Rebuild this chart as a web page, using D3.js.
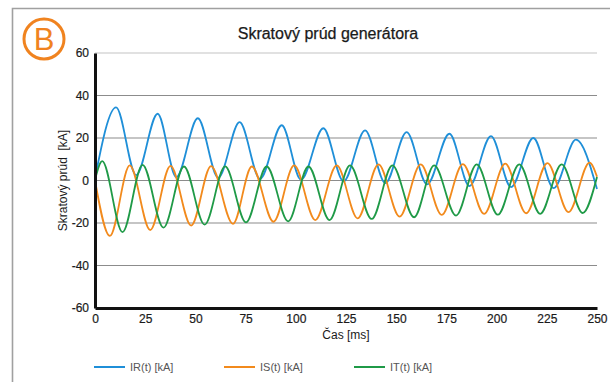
<!DOCTYPE html>
<html>
<head>
<meta charset="utf-8">
<script src="https://cdn.jsdelivr.net/npm/d3@7"></script>
<style>
  body { margin: 0; background: #fff; }
  svg { font-family: "Liberation Sans", Arial, sans-serif; }
</style>
</head>
<body>
<svg></svg>
<script>
// time [ms] of each read-off point, and current [kA]
const irTime = [0, 10.5, 20.5, 31.2, 40.5, 51.2, 61.4, 72.0, 82.2, 93.0, 102.6, 113.7, 123.8, 134.5, 144.6, 155.2, 165.4, 176.5, 186.5, 197.2, 207.2, 218.3, 228.4, 239.5, 250];
const irValue = [1.0, 34.4, 2.5, 31.4, 1.6, 29.3, 1.3, 27.5, 0.8, 26.0, 0.3, 24.6, -0.4, 23.6, -1.2, 22.8, -1.8, 22.0, -2.6, 20.9, -3.1, 20.0, -3.6, 19.2, -4.0];

const isTime = [0, 7.4, 17.3, 27.5, 37.6, 47.9, 57.8, 68.7, 78.1, 88.9, 99.2, 109.7, 120.4, 130.8, 141.2, 151.7, 162.2, 172.7, 183.2, 193.8, 204.3, 214.7, 225.3, 235.8, 246.3, 250];
const isValue = [0, -26.1, 7.1, -23.3, 6.9, -21.2, 6.8, -20.4, 6.6, -19.4, 7.1, -18.6, 7.1, -17.8, 7.6, -17.0, 7.6, -16.2, 7.7, -15.7, 7.9, -15.4, 8.2, -14.9, 8.4, 1.8];

const itTime = [0, 3.6, 13.7, 23.7, 34.1, 44.3, 54.6, 64.8, 75.2, 85.5, 96.2, 106.3, 116.8, 127.0, 137.8, 148.1, 158.9, 168.9, 179.8, 190.1, 200.6, 211.3, 221.7, 232.4, 242.9, 250];
const itValue = [0.3, 9.1, -24.3, 7.4, -22.2, 6.6, -20.8, 6.6, -19.7, 6.6, -19.2, 6.6, -18.6, 7.1, -18.1, 7.1, -17.3, 7.1, -16.5, 7.6, -16.1, 7.6, -15.7, 7.6, -15.3, 1.6];

const xTicks = [0, 25, 50, 75, 100, 125, 150, 175, 200, 225, 250];
const yTicks = [-60, -40, -20, 0, 20, 40, 60];
const seriesNames = ["IR(t) [kA]", "IS(t) [kA]", "IT(t) [kA]"];
const colors = ["#1f8fd8", "#f28a1c", "#1f9a47"];

const width = 610;
const height = 382;
const marginLeft = 95;
const marginRight = 13;
const marginTop = 53;
const marginBottom = 74;

const svg = d3.select("svg").attr("width", width).attr("height", height);

// outer frame (runs off the right and bottom edge)
svg.append("path")
  .attr("d", `M12.5,${height + 2} V8.5 H${width + 2}`)
  .attr("fill", "none")
  .attr("stroke", "#a0a0a0")
  .attr("stroke-width", 1.6);

// logo
svg.append("circle")
  .attr("cx", 44).attr("cy", 39).attr("r", 20)
  .attr("fill", "none")
  .attr("stroke", "#f0831f")
  .attr("stroke-width", 3);
svg.append("text")
  .attr("x", 44).attr("y", 50)
  .attr("text-anchor", "middle")
  .attr("font-size", 31)
  .attr("fill", "#f0831f")
  .text("B");

svg.append("text")
  .attr("x", 328).attr("y", 39)
  .attr("text-anchor", "middle")
  .attr("font-size", 16)
  .attr("fill", "#1a1a1a")
  .attr("stroke", "#1a1a1a")
  .attr("stroke-width", 0.25)
  .text("Skratový prúd generátora");

const x = d3.scaleLinear([0, 250], [marginLeft, width - marginRight]);
const y = d3.scaleLinear([-60, 60], [height - marginBottom, marginTop]);

// grid
svg.append("g")
  .selectAll("line")
  .data(yTicks.filter((d) => d > -60))
  .join("line")
  .attr("x1", marginLeft)
  .attr("x2", width - marginRight)
  .attr("y1", (d) => y(d))
  .attr("y2", (d) => y(d))
  .attr("stroke", (d) => (d === 60 ? "#c4c4c4" : "#8c8c8c"))
  .attr("stroke-width", 1.2);

const line = d3.line()
  .x((d) => x(d[0]))
  .y((d) => y(d[1]))
  .curve(d3.curveMonotoneX);

const series = [
  d3.zip(irTime, irValue),
  d3.zip(isTime, isValue),
  d3.zip(itTime, itValue),
];

svg.append("g")
  .selectAll("path")
  .data(series)
  .join("path")
  .attr("d", line)
  .attr("fill", "none")
  .attr("stroke", (_, i) => colors[i])
  .attr("stroke-width", 1.8);

const yAxis = svg.append("g")
  .attr("transform", `translate(${marginLeft},0)`)
  .call(d3.axisLeft(y).tickValues(yTicks).tickFormat((d) => String(d)).tickSize(0).tickPadding(6));
yAxis.select(".domain").attr("stroke", "#111").attr("stroke-width", 3);

const xAxis = svg.append("g")
  .attr("transform", `translate(0,${height - marginBottom})`)
  .call(d3.axisBottom(x).tickValues(xTicks).tickFormat((d) => String(d)).tickSize(0).tickPadding(6));
xAxis.select(".domain").attr("stroke", "#111").attr("stroke-width", 3);

svg.selectAll(".tick text")
  .attr("font-family", "Liberation Sans, Arial, sans-serif")
  .attr("font-size", 12)
  .attr("fill", "#1a1a1a")
  .attr("stroke", "#1a1a1a")
  .attr("stroke-width", 0.2);

svg.append("text")
  .attr("x", (marginLeft + width - marginRight) / 2)
  .attr("y", 339)
  .attr("text-anchor", "middle")
  .attr("font-size", 12)
  .attr("fill", "#1a1a1a")
  .text("Čas [ms]");

svg.append("text")
  .attr("transform", `translate(67,${y(0)}) rotate(-90)`)
  .attr("text-anchor", "middle")
  .attr("font-size", 12)
  .attr("fill", "#1a1a1a")
  .attr("xml:space", "preserve")
  .style("white-space", "pre")
  .text("Skratový prúd  [kA]");

// legend
const legend = svg.append("g")
  .selectAll("g")
  .data(seriesNames)
  .join("g")
  .attr("transform", (_, i) => `translate(${94 + i * 130},367)`);
legend.append("line")
  .attr("x1", 0).attr("x2", 31)
  .attr("stroke", (_, i) => colors[i])
  .attr("stroke-width", 2);
legend.append("text")
  .attr("x", 36).attr("y", 4)
  .attr("font-size", 11)
  .attr("fill", "#555")
  .text((d) => d);
</script>
</body>
</html>
